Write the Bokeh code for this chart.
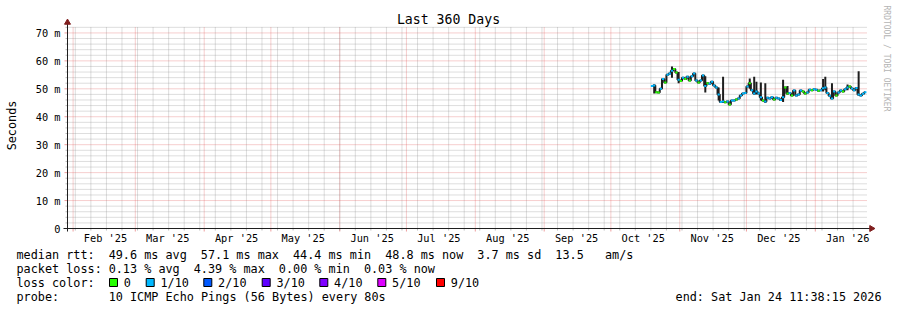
import math
import pandas as pd
from bokeh.plotting import figure
from bokeh.models import Range1d, ColumnDataSource
from bokeh.core.properties import value
from bokeh.embed import file_html
from bokeh.resources import INLINE

# ---------------- data ----------------
END_TIME = "2026-01-24 11:38:15"
SPAN_DAYS = 360
FIRST_DAY = "2025-10-19 12:00"

median_ms = [
    51.0, 51.2, 48.8, 48.7, 50.0, 53.5, 52.3, 55.0, 55.5, 56.5,
    57.1, 55.8, 53.2, 52.8, 54.0, 53.5, 54.3, 53.0, 54.5, 55.5,
    53.0, 52.3, 53.0, 54.8, 51.0, 52.0, 51.8, 52.5, 51.2, 50.5,
    48.0, 45.3, 45.5, 45.2, 45.5, 44.4, 45.8, 45.8, 46.2, 46.5,
    47.6, 48.3, 48.5, 50.8, 52.0, 49.5, 48.3, 49.0, 48.3, 47.0,
    45.8, 45.5, 46.8, 46.5, 47.0, 46.2, 46.8, 46.5, 46.0, 47.0,
    50.5, 48.3, 48.5, 47.6, 49.4, 47.6, 48.0, 49.4, 49.0, 48.3,
    48.7, 49.7, 49.5, 49.8, 49.7, 49.3, 49.5, 50.2, 50.5, 48.5,
    47.5, 46.5, 49.0, 47.6, 48.7, 49.4, 49.0, 49.8, 50.5, 50.8,
    50.1, 49.5, 50.3, 48.0, 47.6, 48.2, 48.8]

lost_pings = [
    1, 1, 0, 0, 1, 1, 0, 1, 1, 1,
    0, 0, 1, 0, 1, 0, 1, 0, 1, 1,
    1, 0, 1, 1, 1, 0, 1, 1, 1, 1,
    1, 1, 1, 0, 1, 0, 1, 1, 0, 1,
    1, 1, 1, 1, 0, 1, 1, 1, 1, 1,
    0, 1, 1, 1, 1, 0, 1, 1, 1, 1,
    0, 0, 1, 0, 1, 1, 1, 1, 0, 0,
    1, 1, 0, 1, 1, 0, 1, 1, 1, 1,
    1, 1, 1, 0, 1, 1, 0, 1, 1, 0,
    1, 1, 1, 1, 1, 1, 1]

smoke_dates = ["2025-10-20", "2025-10-28", "2025-10-31", "2025-11-12", "2025-11-18",
               "2025-11-20", "2025-12-02", "2025-12-04", "2025-12-05", "2025-12-07",
               "2025-12-09", "2025-12-17", "2025-12-19", "2026-01-04", "2026-01-05",
               "2026-01-08", "2026-01-15", "2026-01-20"]
smoke_lo = [48.3, 54.0, 52.0, 48.7, 45.8, 44.9, 50.0, 48.0, 48.0, 45.8,
            45.0, 45.3, 48.0, 49.0, 49.5, 46.5, 49.5, 47.6]
smoke_hi = [51.5, 58.0, 56.0, 54.5, 50.5, 54.3, 53.7, 54.3, 52.5, 52.3,
            52.0, 53.2, 51.0, 53.5, 54.3, 52.0, 51.5, 56.3]

loss_levels = ["0", "1/10", "2/10", "3/10", "4/10", "5/10", "9/10"]
loss_colors = ["#26ff00", "#00b8ff", "#0059ff", "#5e00ff", "#7e00ff", "#dd00ff", "#ff0000"]

month_labels = ["Feb '25", "Mar '25", "Apr '25", "May '25", "Jun '25", "Jul '25",
                "Aug '25", "Sep '25", "Oct '25", "Nov '25", "Dec '25", "Jan '26"]
y_ticks = [0, 10, 20, 30, 40, 50, 60, 70]
y_tick_labels = ["0", "10 m", "20 m", "30 m", "40 m", "50 m", "60 m", "70 m"]
y_minor_step = 2
y_top = 72.3

title_text = "Last 360 Days"
unit_text = "Seconds"
rtt_row = ["median rtt:", "49.6 ms avg", "57.1 ms max", "44.4 ms min",
           "48.8 ms now", "3.7 ms sd", "13.5", "am/s"]
loss_row = ["packet loss:", "0.13 % avg", "4.39 % max", "0.00 % min", "0.03 % now"]
probe_row = ["probe:", "10 ICMP Echo Pings (56 Bytes) every 80s"]
end_text = "end: Sat Jan 24 11:38:15 2026"
watermark = "RRDTOOL / TOBI OETIKER"

# ---------------- layout constants (pixels) ----------------
W, H = 897, 310
FX0, FX1, FY0, FY1 = 67, 867, 26, 228     # plot area: left, right, top, bottom
MONO = value("DejaVu Sans Mono")
LEG_SIZE = "11.8px"
CH = 7.09                                  # legend char advance
MGRID = "rgba(222,79,79,0.55)"
GRID = "rgba(143,143,143,0.6)"
AXIS = "#1f1f1f"
ARROW = "#801f1f"
SMOKE = "#1e1e1e"

end_t = pd.Timestamp(END_TIME)
start_t = end_t - pd.Timedelta(days=SPAN_DAYS)


def ms(t):
    return pd.Timestamp(t).value / 1e6


x_lo, x_hi = ms(start_t), ms(end_t)


def px_x(px):
    return x_lo + (px - FX0) / (FX1 - FX0) * (x_hi - x_lo)


def px_y(py):
    return (FY1 - py) / (FY1 - FY0) * y_top


def dx(npx):
    return npx / (FX1 - FX0) * (x_hi - x_lo)


def dy(npx):
    return npx / (FY1 - FY0) * y_top


p = figure(width=W, height=H, output_backend="svg", toolbar_location=None,
           x_range=Range1d(px_x(0), px_x(W)), y_range=Range1d(px_y(H), px_y(0)),
           x_axis_location=None, y_axis_location=None, min_border=0)
p.outline_line_color = None
p.background_fill_color = "white"
p.border_fill_color = "white"
p.grid.visible = False

# ---- grid positions ----
months = pd.date_range("2025-02-01", "2026-01-01", freq="MS")
month_ms = [ms(m) for m in months]
label_ms = [ms(m + pd.Timedelta(days=14, hours=14)) for m in months]
sundays = pd.date_range(start_t.normalize(), end_t, freq="W-SUN")
sunday_ms = [ms(s) for s in sundays if x_lo <= ms(s) <= x_hi]
y_minor = [v for v in range(y_minor_step, int(y_top) + 1, y_minor_step) if v % 10]

# minor grid (gray dotted)
p.segment(x0=sunday_ms, y0=[0] * len(sunday_ms), x1=sunday_ms, y1=[y_top] * len(sunday_ms),
          line_color=GRID, line_dash="1 1", line_width=1)
p.segment(x0=[x_lo] * len(y_minor), y0=y_minor, x1=[x_hi] * len(y_minor), y1=y_minor,
          line_color=GRID, line_dash="1 1", line_width=1)
# major grid (red dotted)
p.segment(x0=month_ms, y0=[0] * len(month_ms), x1=month_ms, y1=[y_top] * len(month_ms),
          line_color=MGRID, line_dash="1 1", line_width=1)
yt = y_ticks[1:]
p.segment(x0=[x_lo] * len(yt), y0=yt, x1=[x_hi] * len(yt), y1=yt,
          line_color=MGRID, line_dash="1 1", line_width=1)

# tick marks
p.segment(x0=[x_lo - dx(3)] * len(y_ticks), y0=y_ticks, x1=[x_lo] * len(y_ticks), y1=y_ticks,
          line_color=MGRID, line_width=1)
p.segment(x0=[x_lo - dx(2)] * len(y_minor), y0=y_minor, x1=[x_lo] * len(y_minor), y1=y_minor,
          line_color=GRID, line_width=1)
p.segment(x0=month_ms, y0=[-dy(3)] * len(month_ms), x1=month_ms, y1=[0] * len(month_ms),
          line_color=MGRID, line_width=1)
p.segment(x0=sunday_ms, y0=[-dy(2)] * len(sunday_ms), x1=sunday_ms, y1=[0] * len(sunday_ms),
          line_color=GRID, line_width=1)

# axes lines + arrows
p.segment(x0=[x_lo], y0=[-dy(3)], x1=[x_lo], y1=[y_top + dy(3)], line_color=AXIS, line_width=1)
p.segment(x0=[x_lo - dx(4)], y0=[0], x1=[x_hi + dx(3)], y1=[0], line_color=AXIS, line_width=1)
p.scatter(x=[x_lo], y=[y_top + dy(4)], marker="triangle", size=6,
          fill_color=ARROW, line_color=ARROW)
p.scatter(x=[x_hi + dx(4)], y=[0], marker="triangle", size=6, angle=-math.pi / 2,
          fill_color=ARROW, line_color=ARROW)

# tick labels
p.text(x=[x_lo - dx(7)] * len(y_ticks), y=y_ticks, text=y_tick_labels,
       text_font=MONO, text_font_size="10.3px", text_color="black",
       text_align="right", text_baseline="middle")
p.text(x=label_ms, y=[-dy(9)] * len(label_ms), text=month_labels,
       text_font=MONO, text_font_size="10.3px", text_color="black",
       text_align="center", text_baseline="middle")

# ---- data ----
days = pd.date_range(FIRST_DAY, periods=len(median_ms), freq="D")
t = [ms(d) for d in days]
half = 0.5 * 86400000
src = ColumnDataSource(dict(
    t=t, m=median_ms,
    t0=[v - half for v in t], t1=[v + half for v in t],
    c=[loss_colors[k] for k in lost_pings]))
sm = ColumnDataSource(dict(
    t=[ms(pd.Timestamp(d) + pd.Timedelta(hours=12)) for d in smoke_dates],
    lo=smoke_lo, hi=smoke_hi))
p.segment(x0="t", y0="lo", x1="t", y1="hi", source=sm, line_color=SMOKE, line_width=2)
p.step(x="t", y="m", source=src, mode="center", line_color=SMOKE, line_width=2)
p.segment(x0="t0", y0="m", x1="t1", y1="m", source=src, line_color="c", line_width=2)


# ---- texts ----
def lab(text, px, py, size=LEG_SIZE, align="left", color="black", angle=0.0):
    p.text(x=[px_x(px)], y=[px_y(py)], text=[text], text_font=MONO,
           text_font_size=size, text_color=color, text_align=align,
           text_baseline="middle", angle=angle)


lab(title_text, 448, 19, size="13.2px", align="center")
lab(unit_text, 11, 125, align="center", angle=math.pi / 2)
lab(watermark, 886, 5, size="8px", color="#b4b4b4", angle=-math.pi / 2)

ROW_Y = [254, 268, 282, 296]
LX = 16
for txt, col in zip(rtt_row, [0, 13, 26, 39, 52, 65, 76, 83]):
    lab(txt, LX + col * CH, ROW_Y[0])
for txt, col in zip(loss_row, [0, 13, 25, 37, 49]):
    lab(txt, LX + col * CH, ROW_Y[1])
lab("loss color:", LX, ROW_Y[2])
sq_left = [109, 145.7, 203.3, 261.7, 319.3, 377.3, 436]
p.scatter(x=[px_x(s + 4) for s in sq_left], y=[px_y(ROW_Y[2])] * len(sq_left),
          marker="square", size=8, fill_color=loss_colors, line_color="black", line_width=1)
for name, sx in zip(loss_levels, sq_left):
    lab(name, sx + 14.3, ROW_Y[2])
lab(probe_row[0], LX, ROW_Y[3])
lab(probe_row[1], LX + 13 * CH, ROW_Y[3])
lab(end_text, 881, ROW_Y[3], align="right")

open("out.html", "w").write(file_html(p, INLINE))
